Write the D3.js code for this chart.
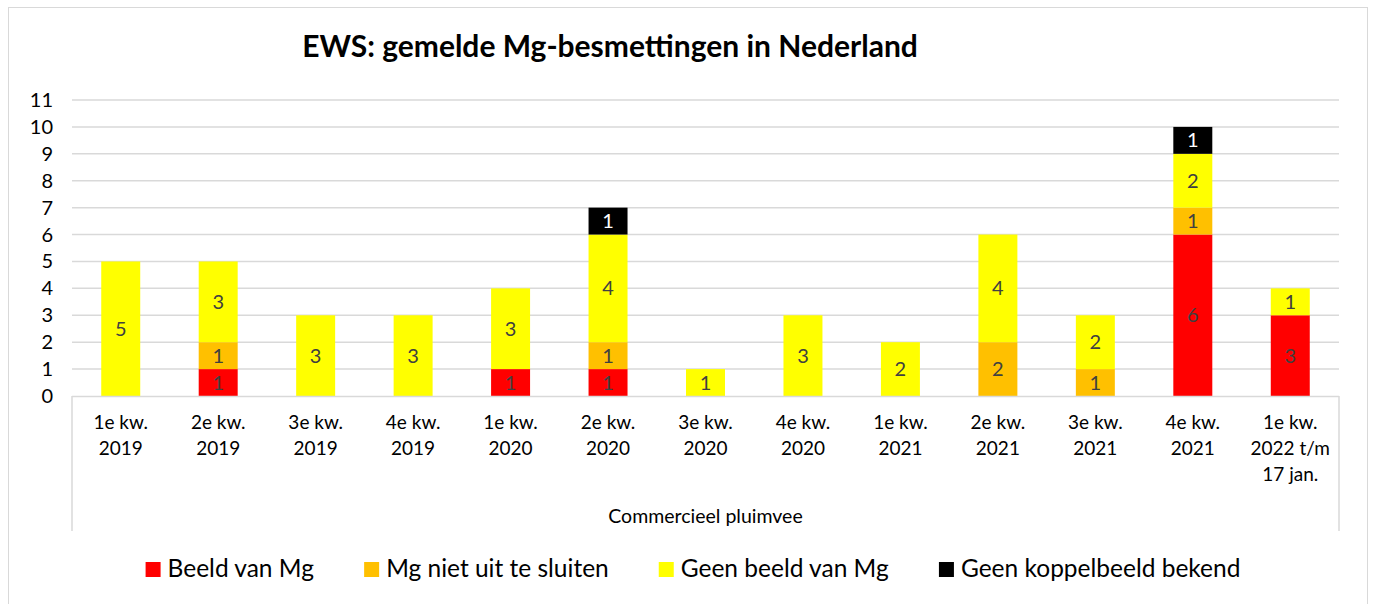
<!DOCTYPE html>
<html>
<head>
<meta charset="utf-8">
<script src="https://cdn.jsdelivr.net/npm/d3@7"></script>
<style>
  body { margin: 0; background: #fff; }
  svg text { font-family: Lato, "Open Sans", sans-serif; }
</style>
</head>
<body>
<svg id="chart" width="1374" height="604"></svg>
<script>
// kwartalen (two/three line labels)
const categories = [
  ['1e kw.', '2019'], ['2e kw.', '2019'], ['3e kw.', '2019'], ['4e kw.', '2019'],
  ['1e kw.', '2020'], ['2e kw.', '2020'], ['3e kw.', '2020'], ['4e kw.', '2020'],
  ['1e kw.', '2021'], ['2e kw.', '2021'], ['3e kw.', '2021'], ['4e kw.', '2021'],
  ['1e kw.', '2022 t/m', '17 jan.']
];
const beeldVanMg       = [0, 1, 0, 0, 1, 1, 0, 0, 0, 0, 0, 6, 3];
const mgNietUitTeSluiten = [0, 1, 0, 0, 0, 1, 0, 0, 0, 2, 1, 1, 0];
const geenBeeldVanMg   = [5, 3, 3, 3, 3, 4, 1, 3, 2, 4, 2, 2, 1];
const geenKoppelbeeld  = [0, 0, 0, 0, 0, 1, 0, 0, 0, 0, 0, 1, 0];
const seriesNames = ['Beeld van Mg', 'Mg niet uit te sluiten', 'Geen beeld van Mg', 'Geen koppelbeeld bekend'];
const seriesColors = ['#ff0000', '#ffc000', '#ffff00', '#000000'];
const yTicks = d3.range(0, 12);

const svg = d3.select('#chart');
const margin = {left: 72, right: 1339, top: 100, bottom: 396};

// outer frame
svg.append('rect')
  .attr('x', 8.5).attr('y', 7.5).attr('width', 1359).attr('height', 600)
  .attr('fill', 'none').attr('stroke', '#d9d9d9').attr('stroke-width', 1);

svg.append('text')
  .attr('x', 610).attr('y', 57)
  .attr('text-anchor', 'middle')
  .attr('font-size', 30).attr('font-weight', 'bold')
  .attr('fill', '#000')
  .text('EWS: gemelde Mg-besmettingen in Nederland');

const x = d3.scaleBand()
  .domain(d3.range(categories.length))
  .range([margin.left, margin.right])
  .paddingInner(0.6).paddingOuter(0.3);

const y = d3.scaleLinear().domain([0, 11]).range([margin.bottom, margin.top]);

// gridlines
svg.append('g').selectAll('line').data(yTicks.slice(1)).join('line')
  .attr('x1', margin.left).attr('x2', margin.right)
  .attr('y1', d => y(d)).attr('y2', d => y(d))
  .attr('stroke', '#d9d9d9').attr('stroke-width', 1.5);

// y labels
svg.append('g').selectAll('text').data(yTicks).join('text')
  .attr('x', 53).attr('y', d => y(d) + 7)
  .attr('text-anchor', 'end')
  .attr('font-size', 20).attr('fill', '#000')
  .text(d => d);

// stacked bars
const rows = categories.map((c, i) => ({
  i: i, s0: beeldVanMg[i], s1: mgNietUitTeSluiten[i], s2: geenBeeldVanMg[i], s3: geenKoppelbeeld[i]
}));
const stack = d3.stack().keys(['s0', 's1', 's2', 's3'])(rows);

stack.forEach((layer, k) => {
  const g = svg.append('g');
  g.selectAll('rect').data(layer.filter(d => d[1] > d[0])).join('rect')
    .attr('x', d => x(d.data.i))
    .attr('width', x.bandwidth())
    .attr('y', d => y(d[1]))
    .attr('height', d => y(d[0]) - y(d[1]))
    .attr('fill', seriesColors[k]);
  g.selectAll('text').data(layer.filter(d => d[1] > d[0])).join('text')
    .attr('x', d => x(d.data.i) + x.bandwidth() / 2)
    .attr('y', d => (y(d[0]) + y(d[1])) / 2 + 7)
    .attr('text-anchor', 'middle')
    .attr('font-size', 20)
    .attr('fill', k === 3 ? '#fff' : '#404040')
    .text(d => d[1] - d[0]);
});

// axis frame
const axisCol = '#d9d9d9';
svg.append('line').attr('x1', margin.left).attr('x2', margin.right)
  .attr('y1', margin.bottom + 0.5).attr('y2', margin.bottom + 0.5)
  .attr('stroke', axisCol).attr('stroke-width', 1.5);
[margin.left, margin.right].forEach(px => {
  svg.append('line').attr('x1', px).attr('x2', px)
    .attr('y1', margin.bottom).attr('y2', 531)
    .attr('stroke', axisCol).attr('stroke-width', 1.5);
});

// category labels
const cat = svg.append('g').selectAll('text').data(categories).join('text')
  .attr('text-anchor', 'middle')
  .attr('font-size', 19).attr('fill', '#000');
cat.each(function(c, i) {
  d3.select(this).selectAll('tspan').data(c).join('tspan')
    .attr('x', x(i) + x.bandwidth() / 2)
    .attr('y', (d, j) => 429 + j * 26)
    .text(d => d);
});

svg.append('text')
  .attr('x', (margin.left + margin.right) / 2).attr('y', 523)
  .attr('text-anchor', 'middle')
  .attr('font-size', 19.5).attr('fill', '#000')
  .text('Commercieel pluimvee');

// legend
const legend = svg.append('g');
const items = legend.selectAll('g').data(seriesNames).join('g');
items.append('rect').attr('width', 15).attr('height', 15)
  .attr('y', -15).attr('fill', (d, i) => seriesColors[i]);
items.append('text').attr('x', 22).attr('y', 0)
  .attr('font-size', 24.5).attr('fill', '#000')
  .text(d => d);
let lx = 0;
const gap = 50;
items.each(function() {
  const w = this.getBBox().width;
  d3.select(this).attr('transform', 'translate(' + lx + ',577)');
  lx += w + gap;
});
const totalW = lx - gap;
legend.attr('transform', 'translate(' + (693 - totalW / 2) + ',0)');
</script>
</body>
</html>
